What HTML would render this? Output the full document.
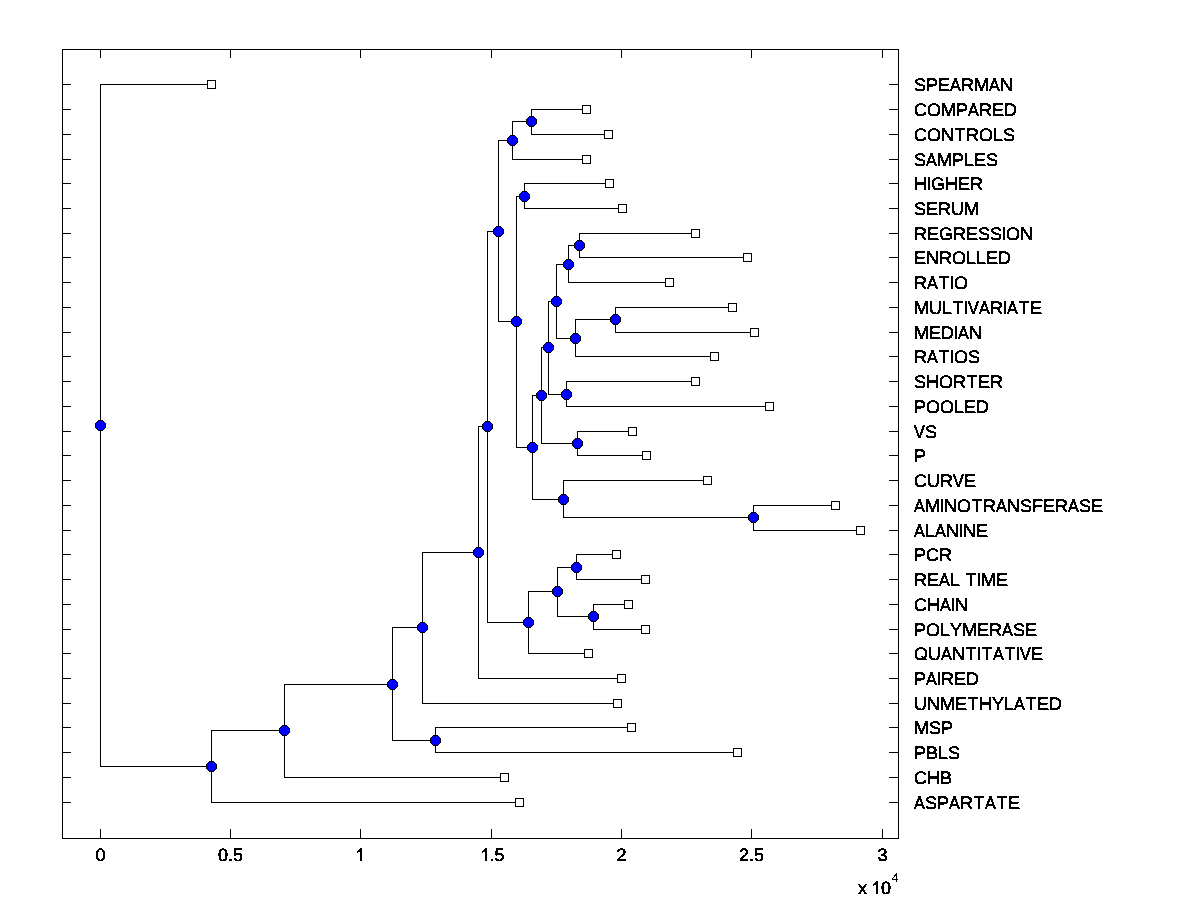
<!DOCTYPE html>
<html><head><meta charset="utf-8"><title>Dendrogram</title>
<style>
html,body{margin:0;padding:0;background:#fff;}
body{width:1200px;height:900px;overflow:hidden;}
svg{display:block;shape-rendering:crispEdges;will-change:transform;}
.t text{font-family:"Liberation Sans",sans-serif;font-size:18px;fill:#000;font-kerning:none;font-feature-settings:"kern" 0;text-rendering:geometricPrecision;stroke:#000;stroke-width:0.5px;stroke-linejoin:miter;}
.t .sup{font-size:12.5px;stroke-width:0.1px;}
.g1{fill:#000;stroke:#000;stroke-width:45;shape-rendering:geometricPrecision;}
</style></head><body>
<svg width="1200" height="900" viewBox="0 0 1200 900">
<defs>
<g id="sq"><rect x="0" y="0" width="9" height="9" fill="#000"/><rect x="1" y="1" width="7" height="7" fill="#fff"/></g>
<g id="ci"><path fill="#000" d="M3 0h5v1h1v1h1v1h1v5h-1v1h-1v1h-1v1h-5v-1h-1v-1h-1v-1h-1v-5h1v-1h1v-1h1z"/><path fill="#00f" d="M3 1h5v1h1v1h1v5h-1v1h-1v1h-5v-1h-1v-1h-1v-5h1v-1h1z"/></g>
<filter id="al" x="0" y="0" width="1200" height="900" filterUnits="userSpaceOnUse" color-interpolation-filters="sRGB"><feComponentTransfer><feFuncA type="discrete" tableValues="0 1"/></feComponentTransfer></filter>
</defs>
<g fill="#000"><rect x="531" y="109" width="1" height="26"/><rect x="531" y="109" width="56" height="1"/><rect x="531" y="134" width="78" height="1"/><rect x="512" y="121" width="1" height="39"/><rect x="512" y="121" width="20" height="1"/><rect x="512" y="159" width="75" height="1"/><rect x="524" y="183" width="1" height="26"/><rect x="524" y="183" width="86" height="1"/><rect x="524" y="208" width="99" height="1"/><rect x="579" y="233" width="1" height="25"/><rect x="579" y="233" width="117" height="1"/><rect x="579" y="257" width="169" height="1"/><rect x="568" y="245" width="1" height="38"/><rect x="568" y="245" width="12" height="1"/><rect x="568" y="282" width="102" height="1"/><rect x="615" y="307" width="1" height="26"/><rect x="615" y="307" width="118" height="1"/><rect x="615" y="332" width="140" height="1"/><rect x="575" y="319" width="1" height="38"/><rect x="575" y="319" width="41" height="1"/><rect x="575" y="356" width="140" height="1"/><rect x="556" y="264" width="1" height="75"/><rect x="556" y="264" width="13" height="1"/><rect x="556" y="338" width="20" height="1"/><rect x="566" y="381" width="1" height="26"/><rect x="566" y="381" width="130" height="1"/><rect x="566" y="406" width="204" height="1"/><rect x="548" y="301" width="1" height="94"/><rect x="548" y="301" width="9" height="1"/><rect x="548" y="394" width="19" height="1"/><rect x="577" y="431" width="1" height="25"/><rect x="577" y="431" width="56" height="1"/><rect x="577" y="455" width="70" height="1"/><rect x="541" y="347" width="1" height="97"/><rect x="541" y="347" width="8" height="1"/><rect x="541" y="443" width="37" height="1"/><rect x="753" y="505" width="1" height="26"/><rect x="753" y="505" width="83" height="1"/><rect x="753" y="530" width="108" height="1"/><rect x="563" y="480" width="1" height="38"/><rect x="563" y="480" width="145" height="1"/><rect x="563" y="517" width="191" height="1"/><rect x="532" y="395" width="1" height="105"/><rect x="532" y="395" width="10" height="1"/><rect x="532" y="499" width="32" height="1"/><rect x="516" y="196" width="1" height="252"/><rect x="516" y="196" width="9" height="1"/><rect x="516" y="447" width="17" height="1"/><rect x="498" y="140" width="1" height="182"/><rect x="498" y="140" width="15" height="1"/><rect x="498" y="321" width="19" height="1"/><rect x="576" y="554" width="1" height="26"/><rect x="576" y="554" width="41" height="1"/><rect x="576" y="579" width="70" height="1"/><rect x="593" y="604" width="1" height="26"/><rect x="593" y="604" width="36" height="1"/><rect x="593" y="629" width="53" height="1"/><rect x="557" y="567" width="1" height="50"/><rect x="557" y="567" width="20" height="1"/><rect x="557" y="616" width="37" height="1"/><rect x="528" y="591" width="1" height="63"/><rect x="528" y="591" width="30" height="1"/><rect x="528" y="653" width="61" height="1"/><rect x="487" y="231" width="1" height="392"/><rect x="487" y="231" width="12" height="1"/><rect x="487" y="622" width="42" height="1"/><rect x="478" y="426" width="1" height="253"/><rect x="478" y="426" width="10" height="1"/><rect x="478" y="678" width="144" height="1"/><rect x="422" y="552" width="1" height="152"/><rect x="422" y="552" width="57" height="1"/><rect x="422" y="703" width="196" height="1"/><rect x="435" y="727" width="1" height="26"/><rect x="435" y="727" width="197" height="1"/><rect x="435" y="752" width="303" height="1"/><rect x="392" y="627" width="1" height="114"/><rect x="392" y="627" width="31" height="1"/><rect x="392" y="740" width="44" height="1"/><rect x="284" y="684" width="1" height="94"/><rect x="284" y="684" width="109" height="1"/><rect x="284" y="777" width="221" height="1"/><rect x="211" y="730" width="1" height="73"/><rect x="211" y="730" width="74" height="1"/><rect x="211" y="802" width="309" height="1"/><rect x="100" y="84" width="1" height="683"/><rect x="100" y="84" width="112" height="1"/><rect x="100" y="766" width="112" height="1"/><rect x="62" y="49" width="837" height="1"/><rect x="62" y="838" width="837" height="1"/><rect x="62" y="49" width="1" height="790"/><rect x="898" y="49" width="1" height="790"/><rect x="100" y="50" width="1" height="8"/><rect x="100" y="829" width="1" height="9"/><rect x="230" y="50" width="1" height="8"/><rect x="230" y="829" width="1" height="9"/><rect x="360" y="50" width="1" height="8"/><rect x="360" y="829" width="1" height="9"/><rect x="491" y="50" width="1" height="8"/><rect x="491" y="829" width="1" height="9"/><rect x="621" y="50" width="1" height="8"/><rect x="621" y="829" width="1" height="9"/><rect x="751" y="50" width="1" height="8"/><rect x="751" y="829" width="1" height="9"/><rect x="882" y="50" width="1" height="8"/><rect x="882" y="829" width="1" height="9"/><rect x="63" y="84" width="8" height="1"/><rect x="889" y="84" width="9" height="1"/><rect x="63" y="109" width="8" height="1"/><rect x="889" y="109" width="9" height="1"/><rect x="63" y="134" width="8" height="1"/><rect x="889" y="134" width="9" height="1"/><rect x="63" y="159" width="8" height="1"/><rect x="889" y="159" width="9" height="1"/><rect x="63" y="183" width="8" height="1"/><rect x="889" y="183" width="9" height="1"/><rect x="63" y="208" width="8" height="1"/><rect x="889" y="208" width="9" height="1"/><rect x="63" y="233" width="8" height="1"/><rect x="889" y="233" width="9" height="1"/><rect x="63" y="257" width="8" height="1"/><rect x="889" y="257" width="9" height="1"/><rect x="63" y="282" width="8" height="1"/><rect x="889" y="282" width="9" height="1"/><rect x="63" y="307" width="8" height="1"/><rect x="889" y="307" width="9" height="1"/><rect x="63" y="332" width="8" height="1"/><rect x="889" y="332" width="9" height="1"/><rect x="63" y="356" width="8" height="1"/><rect x="889" y="356" width="9" height="1"/><rect x="63" y="381" width="8" height="1"/><rect x="889" y="381" width="9" height="1"/><rect x="63" y="406" width="8" height="1"/><rect x="889" y="406" width="9" height="1"/><rect x="63" y="431" width="8" height="1"/><rect x="889" y="431" width="9" height="1"/><rect x="63" y="455" width="8" height="1"/><rect x="889" y="455" width="9" height="1"/><rect x="63" y="480" width="8" height="1"/><rect x="889" y="480" width="9" height="1"/><rect x="63" y="505" width="8" height="1"/><rect x="889" y="505" width="9" height="1"/><rect x="63" y="530" width="8" height="1"/><rect x="889" y="530" width="9" height="1"/><rect x="63" y="554" width="8" height="1"/><rect x="889" y="554" width="9" height="1"/><rect x="63" y="579" width="8" height="1"/><rect x="889" y="579" width="9" height="1"/><rect x="63" y="604" width="8" height="1"/><rect x="889" y="604" width="9" height="1"/><rect x="63" y="629" width="8" height="1"/><rect x="889" y="629" width="9" height="1"/><rect x="63" y="653" width="8" height="1"/><rect x="889" y="653" width="9" height="1"/><rect x="63" y="678" width="8" height="1"/><rect x="889" y="678" width="9" height="1"/><rect x="63" y="703" width="8" height="1"/><rect x="889" y="703" width="9" height="1"/><rect x="63" y="727" width="8" height="1"/><rect x="889" y="727" width="9" height="1"/><rect x="63" y="752" width="8" height="1"/><rect x="889" y="752" width="9" height="1"/><rect x="63" y="777" width="8" height="1"/><rect x="889" y="777" width="9" height="1"/><rect x="63" y="802" width="8" height="1"/><rect x="889" y="802" width="9" height="1"/><rect x="921" y="656" width="2" height="1"/><rect x="922" y="657" width="2" height="1"/><rect x="923" y="658" width="2" height="1"/><rect x="924" y="659" width="3" height="1"/></g>
<use href="#sq" x="207" y="80"/><use href="#sq" x="582" y="105"/><use href="#sq" x="604" y="130"/><use href="#sq" x="582" y="155"/><use href="#sq" x="605" y="179"/><use href="#sq" x="618" y="204"/><use href="#sq" x="691" y="229"/><use href="#sq" x="743" y="253"/><use href="#sq" x="665" y="278"/><use href="#sq" x="728" y="303"/><use href="#sq" x="750" y="328"/><use href="#sq" x="710" y="352"/><use href="#sq" x="691" y="377"/><use href="#sq" x="765" y="402"/><use href="#sq" x="628" y="427"/><use href="#sq" x="642" y="451"/><use href="#sq" x="703" y="476"/><use href="#sq" x="831" y="501"/><use href="#sq" x="856" y="526"/><use href="#sq" x="612" y="550"/><use href="#sq" x="641" y="575"/><use href="#sq" x="624" y="600"/><use href="#sq" x="641" y="625"/><use href="#sq" x="584" y="649"/><use href="#sq" x="617" y="674"/><use href="#sq" x="613" y="699"/><use href="#sq" x="627" y="723"/><use href="#sq" x="733" y="748"/><use href="#sq" x="500" y="773"/><use href="#sq" x="515" y="798"/>
<use href="#ci" x="526" y="116"/><use href="#ci" x="507" y="135"/><use href="#ci" x="519" y="191"/><use href="#ci" x="574" y="240"/><use href="#ci" x="563" y="259"/><use href="#ci" x="610" y="314"/><use href="#ci" x="570" y="333"/><use href="#ci" x="551" y="296"/><use href="#ci" x="561" y="389"/><use href="#ci" x="543" y="342"/><use href="#ci" x="572" y="438"/><use href="#ci" x="536" y="390"/><use href="#ci" x="748" y="512"/><use href="#ci" x="558" y="494"/><use href="#ci" x="527" y="442"/><use href="#ci" x="511" y="316"/><use href="#ci" x="493" y="226"/><use href="#ci" x="571" y="562"/><use href="#ci" x="588" y="611"/><use href="#ci" x="552" y="586"/><use href="#ci" x="523" y="617"/><use href="#ci" x="482" y="421"/><use href="#ci" x="473" y="547"/><use href="#ci" x="417" y="622"/><use href="#ci" x="430" y="735"/><use href="#ci" x="387" y="679"/><use href="#ci" x="279" y="725"/><use href="#ci" x="206" y="761"/><use href="#ci" x="95" y="420"/>
<clipPath id="lc"><rect x="905" y="78" width="295" height="13"/><rect x="905" y="103" width="295" height="13"/><rect x="905" y="128" width="295" height="13"/><rect x="905" y="153" width="295" height="13"/><rect x="905" y="177" width="295" height="13"/><rect x="905" y="202" width="295" height="13"/><rect x="905" y="227" width="295" height="13"/><rect x="905" y="251" width="295" height="13"/><rect x="905" y="276" width="295" height="13"/><rect x="905" y="301" width="295" height="13"/><rect x="905" y="326" width="295" height="13"/><rect x="905" y="350" width="295" height="13"/><rect x="905" y="375" width="295" height="13"/><rect x="905" y="400" width="295" height="13"/><rect x="905" y="425" width="295" height="13"/><rect x="905" y="449" width="295" height="13"/><rect x="905" y="474" width="295" height="13"/><rect x="905" y="499" width="295" height="13"/><rect x="905" y="524" width="295" height="13"/><rect x="905" y="548" width="295" height="13"/><rect x="905" y="573" width="295" height="13"/><rect x="905" y="598" width="295" height="13"/><rect x="905" y="623" width="295" height="13"/><rect x="905" y="647" width="295" height="13"/><rect x="905" y="672" width="295" height="13"/><rect x="905" y="697" width="295" height="13"/><rect x="905" y="721" width="295" height="13"/><rect x="905" y="746" width="295" height="13"/><rect x="905" y="771" width="295" height="13"/><rect x="905" y="796" width="295" height="13"/><rect x="0" y="848" width="1200" height="13"/><rect x="850" y="870" width="60" height="24"/></clipPath><g clip-path="url(#lc)"><g class="t" filter="url(#al)"><text x="914.0" y="91">S</text><text x="926.0" y="91">P</text><text x="937.9" y="91">E</text><text transform="translate(950.1,91) scale(0.9,1)">A</text><text x="961.0" y="91">R</text><text x="974.0" y="91">M</text><text transform="translate(989.1,91) scale(0.9,1)">A</text><text x="1000.0" y="91">N</text><text x="914.0" y="116">C</text><text x="927.0" y="116">O</text><text x="941.0" y="116">M</text><text x="956.0" y="116">P</text><text transform="translate(968.1,116) scale(0.9,1)">A</text><text x="979.0" y="116">R</text><text x="991.9" y="116">E</text><text x="1004.0" y="116">D</text><text x="914.0" y="141">C</text><text x="927.0" y="141">O</text><text x="941.0" y="141">N</text><text x="954.5" y="141">T</text><text x="966.0" y="141">R</text><text x="979.0" y="141">O</text><text x="993.0" y="141">L</text><text x="1003.0" y="141">S</text><text x="914.0" y="166">S</text><text transform="translate(926.1,166) scale(0.9,1)">A</text><text x="937.0" y="166">M</text><text x="952.0" y="166">P</text><text x="964.0" y="166">L</text><text x="973.9" y="166">E</text><text x="986.0" y="166">S</text><text x="914.0" y="190">H</text><text x="926.5" y="190">I</text><text x="931.0" y="190">G</text><text x="945.0" y="190">H</text><text x="957.9" y="190">E</text><text x="970.0" y="190">R</text><text x="914.0" y="215">S</text><text x="925.9" y="215">E</text><text x="938.0" y="215">R</text><text x="951.0" y="215">U</text><text x="964.0" y="215">M</text><text x="914.0" y="240">R</text><text x="926.9" y="240">E</text><text x="939.0" y="240">G</text><text x="953.0" y="240">R</text><text x="965.9" y="240">E</text><text x="978.0" y="240">S</text><text x="990.0" y="240">S</text><text x="1001.5" y="240">I</text><text x="1006.0" y="240">O</text><text x="1020.0" y="240">N</text><text x="913.9" y="264">E</text><text x="926.0" y="264">N</text><text x="939.0" y="264">R</text><text x="952.0" y="264">O</text><text x="966.0" y="264">L</text><text x="976.0" y="264">L</text><text x="985.9" y="264">E</text><text x="998.0" y="264">D</text><text x="914.0" y="289">R</text><text transform="translate(927.1,289) scale(0.9,1)">A</text><text x="938.5" y="289">T</text><text x="949.5" y="289">I</text><text x="954.0" y="289">O</text><text x="914.0" y="314">M</text><text x="929.0" y="314">U</text><text x="942.0" y="314">L</text><text x="952.5" y="314">T</text><text x="963.5" y="314">I</text><text transform="translate(968.1,314) scale(0.9,1)">V</text><text transform="translate(979.1,314) scale(0.9,1)">A</text><text x="990.0" y="314">R</text><text x="1002.5" y="314">I</text><text transform="translate(1007.1,314) scale(0.9,1)">A</text><text x="1018.5" y="314">T</text><text x="1029.9" y="314">E</text><text x="914.0" y="339">M</text><text x="928.9" y="339">E</text><text x="941.0" y="339">D</text><text x="953.5" y="339">I</text><text transform="translate(958.1,339) scale(0.9,1)">A</text><text x="969.0" y="339">N</text><text x="914.0" y="363">R</text><text transform="translate(927.1,363) scale(0.9,1)">A</text><text x="938.5" y="363">T</text><text x="949.5" y="363">I</text><text x="954.0" y="363">O</text><text x="968.0" y="363">S</text><text x="914.0" y="388">S</text><text x="926.0" y="388">H</text><text x="939.0" y="388">O</text><text x="953.0" y="388">R</text><text x="966.5" y="388">T</text><text x="977.9" y="388">E</text><text x="990.0" y="388">R</text><text x="914.0" y="413">P</text><text x="926.0" y="413">O</text><text x="940.0" y="413">O</text><text x="954.0" y="413">L</text><text x="963.9" y="413">E</text><text x="976.0" y="413">D</text><text transform="translate(914.1,438) scale(0.9,1)">V</text><text x="925.0" y="438">S</text><text x="914.0" y="462">P</text><text x="914.0" y="487">C</text><text x="927.0" y="487">U</text><text x="940.0" y="487">R</text><text transform="translate(953.1,487) scale(0.9,1)">V</text><text x="963.9" y="487">E</text><text transform="translate(914.1,512) scale(0.9,1)">A</text><text x="925.0" y="512">M</text><text x="939.5" y="512">I</text><text x="944.0" y="512">N</text><text x="957.0" y="512">O</text><text x="971.5" y="512">T</text><text x="983.0" y="512">R</text><text transform="translate(996.1,512) scale(0.9,1)">A</text><text x="1007.0" y="512">N</text><text x="1020.0" y="512">S</text><text x="1032.0" y="512">F</text><text x="1042.9" y="512">E</text><text x="1055.0" y="512">R</text><text transform="translate(1068.1,512) scale(0.9,1)">A</text><text x="1079.0" y="512">S</text><text x="1090.9" y="512">E</text><text transform="translate(914.1,537) scale(0.9,1)">A</text><text x="925.0" y="537">L</text><text transform="translate(935.1,537) scale(0.9,1)">A</text><text x="946.0" y="537">N</text><text x="958.5" y="537">I</text><text x="963.0" y="537">N</text><text x="975.9" y="537">E</text><text x="914.0" y="561">P</text><text x="926.0" y="561">C</text><text x="939.0" y="561">R</text><text x="914.0" y="586">R</text><text x="926.9" y="586">E</text><text transform="translate(939.1,586) scale(0.9,1)">A</text><text x="950.0" y="586">L</text><text x="965.5" y="586">T</text><text x="976.5" y="586">I</text><text x="981.0" y="586">M</text><text x="995.9" y="586">E</text><text x="914.0" y="611">C</text><text x="927.0" y="611">H</text><text transform="translate(940.1,611) scale(0.9,1)">A</text><text x="950.5" y="611">I</text><text x="955.0" y="611">N</text><text x="914.0" y="636">P</text><text x="926.0" y="636">O</text><text x="940.0" y="636">L</text><text x="950.0" y="636">Y</text><text x="962.0" y="636">M</text><text x="976.9" y="636">E</text><text x="989.0" y="636">R</text><text transform="translate(1002.1,636) scale(0.9,1)">A</text><text x="1013.0" y="636">S</text><text x="1024.9" y="636">E</text><text x="914.0" y="660">Q</text><text x="928.0" y="660">U</text><text transform="translate(941.1,660) scale(0.9,1)">A</text><text x="952.0" y="660">N</text><text x="965.5" y="660">T</text><text x="976.5" y="660">I</text><text x="981.5" y="660">T</text><text transform="translate(993.1,660) scale(0.9,1)">A</text><text x="1004.5" y="660">T</text><text x="1015.5" y="660">I</text><text transform="translate(1020.1,660) scale(0.9,1)">V</text><text x="1030.9" y="660">E</text><text x="914.0" y="685">P</text><text transform="translate(926.1,685) scale(0.9,1)">A</text><text x="936.5" y="685">I</text><text x="941.0" y="685">R</text><text x="953.9" y="685">E</text><text x="966.0" y="685">D</text><text x="914.0" y="710">U</text><text x="927.0" y="710">N</text><text x="940.0" y="710">M</text><text x="954.9" y="710">E</text><text x="967.5" y="710">T</text><text x="979.0" y="710">H</text><text x="992.0" y="710">Y</text><text x="1004.0" y="710">L</text><text transform="translate(1014.1,710) scale(0.9,1)">A</text><text x="1025.5" y="710">T</text><text x="1036.9" y="710">E</text><text x="1049.0" y="710">D</text><text x="914.0" y="734">M</text><text x="929.0" y="734">S</text><text x="941.0" y="734">P</text><text x="914.0" y="759">P</text><text x="926.0" y="759">B</text><text x="938.0" y="759">L</text><text x="948.0" y="759">S</text><text x="914.0" y="784">C</text><text x="927.0" y="784">H</text><text x="940.0" y="784">B</text><text transform="translate(914.1,809) scale(0.9,1)">A</text><text x="925.0" y="809">S</text><text x="937.0" y="809">P</text><text transform="translate(949.1,809) scale(0.9,1)">A</text><text x="960.0" y="809">R</text><text x="973.5" y="809">T</text><text transform="translate(985.1,809) scale(0.9,1)">A</text><text x="996.5" y="809">T</text><text x="1007.9" y="809">E</text><text x="100.5" y="861" text-anchor="middle">0</text><text x="230.5" y="861" text-anchor="middle">0.5</text><path class="g1" transform="translate(355.1,861) scale(0.0087890625,-0.0087890625)" d="M763 0H583V1147Q518 1085 412 1023T223 930V1104Q373 1174 485 1275T644 1466H763Z"/><path class="g1" transform="translate(480.1,861) scale(0.0087890625,-0.0087890625)" d="M763 0H583V1147Q518 1085 412 1023T223 930V1104Q373 1174 485 1275T644 1466H763Z"/><text x="489.55" y="861">.5</text><text x="621.5" y="861" text-anchor="middle">2</text><text x="751.5" y="861" text-anchor="middle">2.5</text><text x="882.5" y="861" text-anchor="middle">3</text><text x="858" y="894">x</text><path class="g1" transform="translate(871.1,894) scale(0.0087890625,-0.0087890625)" d="M763 0H583V1147Q518 1085 412 1023T223 930V1104Q373 1174 485 1275T644 1466H763Z"/><text x="881" y="894">0</text><text class="sup" x="891.6" y="882">4</text></g></g>
</svg>
</body></html>
